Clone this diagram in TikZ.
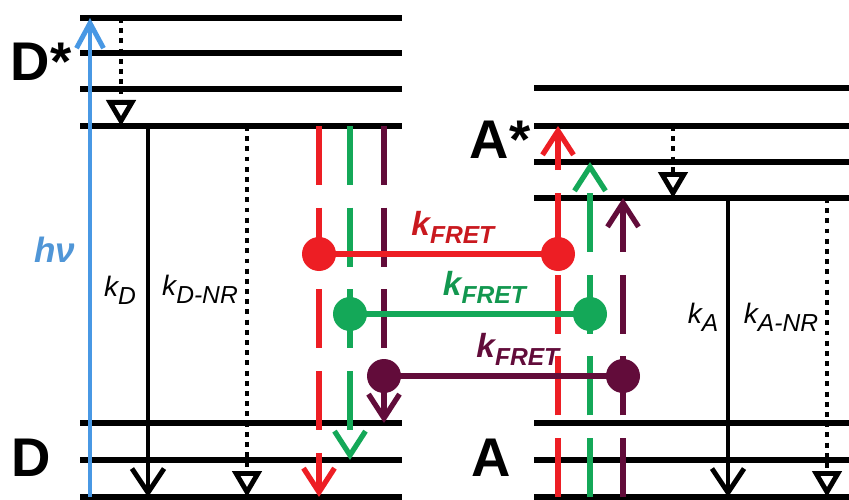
\documentclass[tikz,border=0pt]{standalone}
\usepackage{fontspec}
\setmainfont{Liberation Sans}
\usetikzlibrary{arrows.meta,positioning}
\definecolor{fretred}{RGB}{237,30,36}
\definecolor{fretgreen}{RGB}{20,168,88}
\definecolor{fretpurple}{RGB}{98,12,58}
\definecolor{photon}{RGB}{72,152,228}
\definecolor{photontext}{RGB}{80,150,215}
\newcommand{\ksub}[1]{\raisebox{-4.5pt}{\fontsize{14}{14}\selectfont #1}}
\tikzset{
	stateline/.style={line width=3.3pt},
	statelabel/.style={font=\fontsize{31}{31}\selectfont\bfseries, inner sep=0pt},
	ratelabel/.style={font=\fontsize{16}{16}\selectfont\itshape, inner sep=0pt},
	fretlabel/.style={font=\fontsize{19}{19}\selectfont\bfseries\itshape, inner sep=0pt, above=1.5mm, pos=0.56},
	pumpline/.style={photon, line width=2.8pt, -{Straight Barb[length=5mm, width=5.4mm]}},
	raddecay/.style={line width=2.8pt, -{Straight Barb[length=4.8mm, width=6.4mm]}},
	nonrad/.style={line width=2.8pt, dash pattern=on 2.8pt off 3pt, -{Triangle[open, length=5.2mm, width=5.8mm]}},
	transfer/.style={line width=3pt, dash pattern=on 33.5pt off 13pt, -{Straight Barb[length=4.8mm, width=6.2mm]}},
	coupling/.style={line width=3pt},
	fretdot/.style={circle, fill=#1, minimum size=6.8mm, inner sep=0pt}
}
\begin{document}
\begin{tikzpicture}[x=0.2mm, y=-0.2mm]
	\useasboundingbox (0,0) rectangle (849,500);
	% donor and acceptor levels
	\foreach \y [count=\i] in {18,53,89,126}
		\draw[stateline] (80,\y) coordinate (dx\i) -- (402,\y);
	\foreach \y [count=\i] in {423,460,497}
		\draw[stateline] (80,\y) coordinate (dg\i) -- (402,\y);
	\foreach \y [count=\i] in {88,126,162,198}
		\draw[stateline] (534,\y) coordinate (ax\i) -- (849,\y);
	\foreach \y [count=\i] in {423,460,497}
		\draw[stateline] (534,\y) coordinate (ag\i) -- (849,\y);
	\node[statelabel] (Dex) at (41,62) {D*};
	\node[statelabel] (Dgr) at (31,458) {D};
	\node[statelabel] (Aex) at (500,140) {A*};
	\node[statelabel] (Agr) at (491,458) {A};
	% excitation and decay
	\draw[pumpline] (90,0 |- dg3) -- (90,0 |- dx1);
	\node[font=\fontsize{20}{20}\selectfont\bfseries\itshape, text=photontext, inner sep=0pt] (hv) at (55,250) {hν};
	\draw[nonrad] (121,0 |- dx1) -- (121,0 |- dx4);
	\draw[raddecay] (148,0 |- dx4) -- (148,0 |- dg3);
	\draw[nonrad] (247,0 |- dx4) -- (247,0 |- dg3);
	\draw[nonrad] (673,0 |- ax2) -- (673,0 |- ax4);
	\draw[raddecay] (728,0 |- ax4) -- (728,0 |- ag3);
	\draw[nonrad] (827,0 |- ax4) -- (827,0 |- ag3);
	\node[ratelabel] (kD) at (120,290) {k\ksub{D}};
	\node[ratelabel] (kDnr) at (200,289) {k\ksub{D-NR}};
	\node[ratelabel] (kA) at (703,317) {k\ksub{A}};
	\node[ratelabel] (kAnr) at (781,317) {k\ksub{A-NR}};
	% energy transfer
	\coordinate (rD) at (319,254);
	\coordinate (rA) at (558,254);
	\coordinate (gD) at (350,314);
	\coordinate (gA) at (590,314);
	\coordinate (pD) at (384,376);
	\coordinate (pA) at (623,376);
	\draw[transfer, fretred] (rD |- dx4) -- (rD |- dg3);
	\draw[transfer, fretgreen] (gD |- dx4) -- (gD |- dg2);
	\draw[transfer, fretpurple] (pD |- dx4) -- (pD |- dg1);
	\draw[transfer, fretred] (rA |- ag3) -- (rA |- ax2);
	\draw[transfer, fretgreen] (gA |- ag3) -- (gA |- ax3);
	\draw[transfer, fretpurple] (pA |- ag3) -- (pA |- ax4);
	\draw[coupling, fretred] (rD) -- node[fretlabel, text=fretred!85!black] (kFr) {k\ksub{FRET}} (rA);
	\draw[coupling, fretgreen] (gD) -- node[fretlabel, text=fretgreen!90!black] (kFg) {k\ksub{FRET}} (gA);
	\draw[coupling, fretpurple] (pD) -- node[fretlabel, text=fretpurple] (kFp) {k\ksub{FRET}} (pA);
	\foreach \c/\col in {rD/fretred, rA/fretred, gD/fretgreen, gA/fretgreen, pD/fretpurple, pA/fretpurple}
		\node[fretdot=\col] (\c dot) at (\c) {};
\end{tikzpicture}
\end{document}
